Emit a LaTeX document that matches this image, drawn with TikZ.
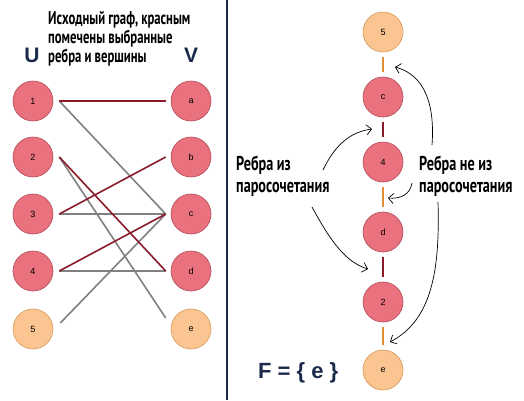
\documentclass[tikz,border=0pt]{standalone}
\usepackage{fontspec}
\setmainfont{Liberation Sans}
\newfontfamily\titlefont[FakeStretch=0.685]{PT Sans}
\newfontfamily\notefont[FakeStretch=0.71]{PT Sans}
\usetikzlibrary{arrows.meta}
\definecolor{nodered}{RGB}{234,113,126}
\definecolor{noderedline}{RGB}{178,72,88}
\definecolor{nodeor}{RGB}{250,197,145}
\definecolor{nodeorline}{RGB}{215,150,85}
\definecolor{edgered}{RGB}{139,26,42}
\definecolor{edgegray}{RGB}{128,128,128}
\definecolor{edgeor}{RGB}{228,140,50}
\definecolor{navy}{RGB}{27,42,74}
\begin{document}
\begin{tikzpicture}[x=1pt,y=-1pt,
  vert/.style={circle, minimum size=40pt, inner sep=0pt, line width=0.6pt, font=\fontsize{9}{10}\selectfont},
  redv/.style={vert, fill=nodered, draw=noderedline},
  orv/.style={vert, fill=nodeor, draw=nodeorline},
  redge/.style={draw=edgered, line width=1.6pt},
  gedge/.style={draw=edgegray, line width=1.6pt},
  seg/.style={line width=1.8pt, shorten <=5pt, shorten >=5pt},
  hand/.style={draw=black, line width=0.7pt, -{Straight Barb[length=5pt,width=10pt]}},
  setlabel/.style={font=\fontsize{21}{21}\selectfont\bfseries, text=navy, inner sep=0pt},
  note/.style={font=\notefont\bfseries\fontsize{20}{21.6}\selectfont, align=left, inner sep=0pt, anchor=base west}
]
\useasboundingbox (0,0) rectangle (524,400);
\fill[white] (0,0) rectangle (524,400);

% divider
\draw[navy, line width=2pt] (227,0) -- (227,400);

% title
\node[font=\titlefont\bfseries\fontsize{18.5}{18.6}\selectfont, align=left, inner sep=0pt, anchor=base west] (title) at (48,62)
  {Исходный граф, красным\\помечены выбранные\\ребра и вершины};
\node[setlabel, anchor=base] (U) at (32,62) {U};
\node[setlabel, anchor=base] (V) at (191,62) {V};

% left graph
\node[redv] (u1) at (33,101) {1};
\node[redv] (u2) at (33,157) {2};
\node[redv] (u3) at (33,214) {3};
\node[redv] (u4) at (33,271) {4};
\node[orv]  (u5) at (33,329) {5};
\node[redv] (va) at (191,101) {a};
\node[redv] (vb) at (191,157) {b};
\node[redv] (vc) at (191,214) {c};
\node[redv] (vd) at (191,271) {d};
\node[orv]  (ve) at (191,329) {e};

\foreach \n in {1,...,4} {\coordinate (p\n) at ([xshift=6pt]u\n.east);}
\foreach \n in {a,b,c,d} {\coordinate (q\n) at ([xshift=-5pt]v\n.west);}
\coordinate (qe) at ([xshift=-5pt,yshift=11pt]ve.west);
\coordinate (p5) at ([xshift=7pt,yshift=6pt]u5.east);

\draw[gedge] (p1) -- (qc);
\draw[gedge] (p2) -- (qe);
\draw[gedge] (p3) -- (qc);
\draw[gedge] (p4) -- (qd);
\draw[gedge] (p5) -- (qc);
\draw[redge] (p1) -- (qa);
\draw[redge] (p2) -- (qd);
\draw[redge] (p3) -- (qb);
\draw[redge] (p4) -- (qc);

% right chain
\node[orv]  (c5) at (383,32) {5};
\node[redv] (cc) at (383,97) {c};
\node[redv] (c4) at (383,162) {4};
\node[redv] (cd) at (383,232) {d};
\node[redv] (c2) at (383,302) {2};
\node[orv]  (ce) at (383,370) {e};

\draw[seg, edgeor]  (c5) -- (cc);
\draw[seg, edgered] (cc) -- (c4);
\draw[seg, edgeor]  (c4) -- (cd);
\draw[seg, edgered] (cd) -- (c2);
\draw[seg, edgeor]  (c2) -- (ce);

% notes
\node[note] (inm) at (236,192) {Ребра из\\паросочетания};
\node[note] (outm) at (419,192) {Ребра не из\\паросочетания};
\node[font=\fontsize{22}{22}\selectfont\bfseries, text=navy, inner sep=0pt, anchor=base west] (F) at (258,378) {F = \{ e \}};

% hand arrows
\coordinate (a1s) at (323,170);
\coordinate (a1e) at (372,129);
\coordinate (a2s) at (312,207);
\coordinate (a2e) at (368,269);
\coordinate (a3s) at (432,145);
\coordinate (a3e) at (395,67);
\coordinate (a4s) at (412,183);
\coordinate (a4e) at (388,198);
\coordinate (a5s) at (438,202);
\coordinate (a5e) at (390,342);
\draw[hand] (a1s) .. controls (335,145) and (350,132) .. (a1e);
\draw[hand] (a2s) .. controls (330,240) and (345,262) .. (a2e);
\draw[hand] (a3s) .. controls (435,105) and (425,75) .. (a3e);
\draw[hand] (a4s) .. controls (410,195) and (400,199) .. (a4e);
\draw[hand] (a5s) .. controls (440,270) and (432,320) .. (a5e);
\end{tikzpicture}
\end{document}
